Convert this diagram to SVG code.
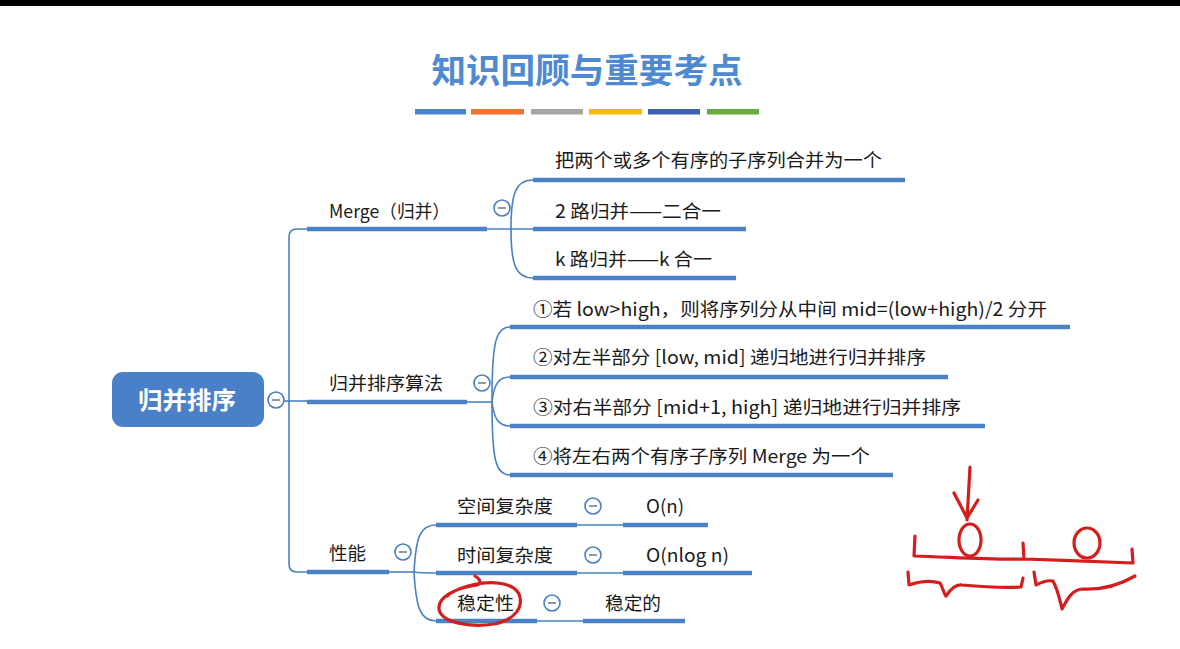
<svg xmlns="http://www.w3.org/2000/svg" width="1180" height="649" viewBox="0 0 1180 649">
  <style>
    .txt { font-family: "Noto Sans CJK SC", "Noto Sans", sans-serif; font-size: 18.5px; fill: #1a1a1a; }
    .title { font-family: "Noto Sans CJK SC", sans-serif; font-size: 34px; font-weight: bold; fill: #4f8ad0; }
    .root { font-family: "Noto Sans CJK SC", sans-serif; font-size: 24px; font-weight: bold; fill: #ffffff; }
    .ul { stroke: #4b82c6; stroke-width: 4.5; fill: none; }
    .cn { stroke: #4a80c2; stroke-width: 1.6; fill: none; }
    .ink { stroke: #d41e1e; stroke-width: 3.2; fill: none; stroke-linecap: round; stroke-linejoin: round; }
  </style>
  <defs>
    <!-- collapse toggle: white disc with a minus bar -->
    <g id="minus">
      <circle cx="0" cy="0" r="8" fill="#ffffff" stroke="#4a80c2" stroke-width="1.6"/>
      <line x1="-4" y1="0" x2="4" y2="0" stroke="#7f8fa6" stroke-width="1.8"/>
    </g>
  </defs>

  <rect width="1180" height="649" fill="#ffffff"/>
  <rect x="0" y="0" width="1180" height="6" fill="#000000"/>

  <!-- heading and colour strip -->
  <g id="heading">
    <text class="title" x="587" y="83" text-anchor="middle" textLength="311" lengthAdjust="spacingAndGlyphs">知识回顾与重要考点</text>
    <rect x="415" y="109" width="51" height="5.5" fill="#4a86cc"/>
    <rect x="471" y="109" width="53" height="5.5" fill="#ee7430"/>
    <rect x="531" y="109" width="52" height="5.5" fill="#a5a5a5"/>
    <rect x="589" y="109" width="53" height="5.5" fill="#f2b90f"/>
    <rect x="648" y="109" width="52" height="5.5" fill="#3d63b0"/>
    <rect x="707" y="109" width="52" height="5.5" fill="#6aaa3e"/>
  </g>

  <!-- connectors -->
  <g id="connectors">
    <path class="cn" d="M284,401 H307"/>
    <path class="cn" d="M307,229 H297 Q289,229 289,237 V564 Q289,572 297,572 H307"/>
    <!-- Merge branch -->
    <path class="cn" d="M487,229 H533"/>
    <path class="cn" d="M511,229 C511,195 515,180 533,180"/>
    <path class="cn" d="M511,229 C511,263 515,278 533,278"/>
    <!-- algorithm branch -->
    <path class="cn" d="M467,402 H492"/>
    <path class="cn" d="M492,402 C492,345 495,327 510,327"/>
    <path class="cn" d="M492,402 C494,385 498,377 510,377"/>
    <path class="cn" d="M492,402 C494,418 498,426 510,426"/>
    <path class="cn" d="M492,402 C492,458 495,475 510,475"/>
    <!-- performance branch -->
    <path class="cn" d="M389,572 H414"/>
    <path class="cn" d="M414,572 C416,537 420,525 436,525"/>
    <path class="cn" d="M414,572 C420,573 426,573 436,573"/>
    <path class="cn" d="M414,572 C416,607 420,621 436,621"/>
    <path class="cn" d="M577,525 H623"/>
    <path class="cn" d="M577,573 H623"/>
    <path class="cn" d="M537,621 H583"/>
  </g>

  <!-- root -->
  <g id="node-root">
    <rect x="112" y="372" width="152" height="55" rx="11" fill="#4a80c8"/>
    <text class="root" x="187" y="409" text-anchor="middle" textLength="98" lengthAdjust="spacingAndGlyphs">归并排序</text>
    <use href="#minus" x="276" y="400"/>
  </g>

  <!-- Merge -->
  <g id="node-merge">
    <line class="ul" x1="307" y1="229" x2="487" y2="229"/>
    <text class="txt" x="329" y="218" textLength="121" lengthAdjust="spacingAndGlyphs">Merge（归并）</text>
    <use href="#minus" x="502" y="208"/>
  </g>
  <g id="node-merge-1">
    <line class="ul" x1="533" y1="180" x2="905" y2="180"/>
    <text class="txt" x="555" y="167" textLength="327" lengthAdjust="spacingAndGlyphs">把两个或多个有序的子序列合并为一个</text>
  </g>
  <g id="node-merge-2">
    <line class="ul" x1="533" y1="229" x2="746" y2="229"/>
    <text class="txt" x="555" y="218" textLength="166" lengthAdjust="spacingAndGlyphs">2 路归并——二合一</text>
  </g>
  <g id="node-merge-3">
    <line class="ul" x1="533" y1="278" x2="736" y2="278"/>
    <text class="txt" x="555" y="266" textLength="157" lengthAdjust="spacingAndGlyphs">k 路归并——k 合一</text>
  </g>

  <!-- algorithm -->
  <g id="node-algo">
    <line class="ul" x1="307" y1="402" x2="467" y2="402"/>
    <text class="txt" x="329" y="390" textLength="114" lengthAdjust="spacingAndGlyphs">归并排序算法</text>
    <use href="#minus" x="482" y="383"/>
  </g>
  <g id="node-algo-1">
    <line class="ul" x1="510" y1="327" x2="1070" y2="327"/>
    <text class="txt" x="533" y="316" textLength="514" lengthAdjust="spacingAndGlyphs">①若 low&gt;high，则将序列分从中间 mid=(low+high)/2 分开</text>
  </g>
  <g id="node-algo-2">
    <line class="ul" x1="510" y1="377" x2="948" y2="377"/>
    <text class="txt" x="533" y="364" textLength="393" lengthAdjust="spacingAndGlyphs">②对左半部分 [low, mid] 递归地进行归并排序</text>
  </g>
  <g id="node-algo-3">
    <line class="ul" x1="510" y1="426" x2="985" y2="426"/>
    <text class="txt" x="533" y="414" textLength="428" lengthAdjust="spacingAndGlyphs">③对右半部分 [mid+1, high] 递归地进行归并排序</text>
  </g>
  <g id="node-algo-4">
    <line class="ul" x1="510" y1="475" x2="893" y2="475"/>
    <text class="txt" x="533" y="463" textLength="337" lengthAdjust="spacingAndGlyphs">④将左右两个有序子序列 Merge 为一个</text>
  </g>

  <!-- performance -->
  <g id="node-perf">
    <line class="ul" x1="307" y1="572" x2="389" y2="572"/>
    <text class="txt" x="329" y="560" textLength="37" lengthAdjust="spacingAndGlyphs">性能</text>
    <use href="#minus" x="403" y="552"/>
  </g>
  <g id="node-space">
    <line class="ul" x1="436" y1="525" x2="577" y2="525"/>
    <text class="txt" x="457" y="513" textLength="96" lengthAdjust="spacingAndGlyphs">空间复杂度</text>
    <use href="#minus" x="593" y="506"/>
  </g>
  <g id="node-space-val">
    <line class="ul" x1="623" y1="525" x2="708" y2="525"/>
    <text class="txt" x="646" y="513" textLength="38" lengthAdjust="spacingAndGlyphs">O(n)</text>
  </g>
  <g id="node-time">
    <line class="ul" x1="436" y1="573" x2="577" y2="573"/>
    <text class="txt" x="457" y="562" textLength="96" lengthAdjust="spacingAndGlyphs">时间复杂度</text>
    <use href="#minus" x="593" y="555"/>
  </g>
  <g id="node-time-val">
    <line class="ul" x1="623" y1="573" x2="752" y2="573"/>
    <text class="txt" x="646" y="562" textLength="83" lengthAdjust="spacingAndGlyphs">O(nlog n)</text>
  </g>
  <g id="node-stable">
    <line class="ul" x1="436" y1="621" x2="537" y2="621"/>
    <text class="txt" x="457" y="610" textLength="57" lengthAdjust="spacingAndGlyphs">稳定性</text>
    <use href="#minus" x="552" y="603"/>
  </g>
  <g id="node-stable-val">
    <line class="ul" x1="583" y1="621" x2="685" y2="621"/>
    <text class="txt" x="605" y="610" textLength="56" lengthAdjust="spacingAndGlyphs">稳定的</text>
  </g>

  <!-- red pen strokes -->
  <g id="ink">
    <path class="ink" d="M475,576 C480,579 482,583 477,585 C455,588 438,597 439,609 C441,622 468,628 494,624 C515,620 524,607 519,594 C513,582 490,580 468,586 C458,589 451,592 447,596"/>
    <path class="ink" d="M970,467 L967,520 M954,493 L967,518 L978,500"/>
    <ellipse class="ink" cx="970" cy="540" rx="11" ry="16"/>
    <ellipse class="ink" cx="1087" cy="543" rx="13" ry="15"/>
    <path class="ink" d="M915,536 L914,556 C950,557 990,560 1024,559 L1023,543 M1024,559 C1060,560 1100,562 1133,563 L1132,549"/>
    <path class="ink" d="M908,572 L909,585 C918,582 930,580 940,583 C943,588 944,594 946,596 C950,590 955,584 962,585 C985,587 1005,588 1021,587 L1023,578"/>
    <path class="ink" d="M1034,572 L1036,585 C1042,582 1048,580 1053,581 C1058,590 1060,600 1062,609 C1068,598 1072,590 1082,589 C1100,590 1118,586 1135,576"/>
  </g>
</svg>
